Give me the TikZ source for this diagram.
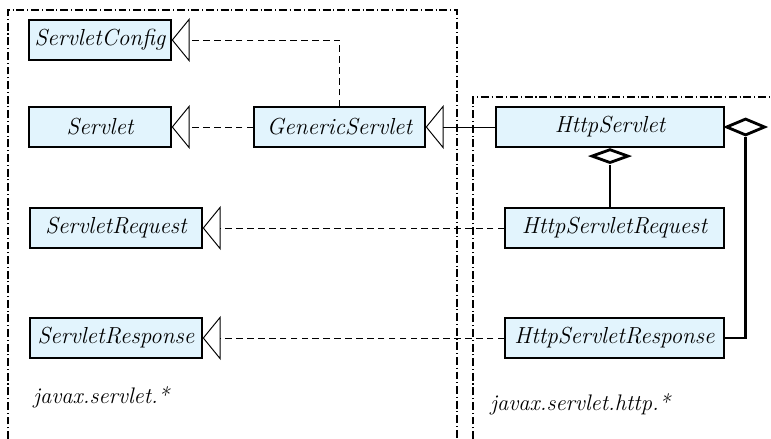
\documentclass[tikz,border=0pt]{standalone}
\usepackage{tikz}
\usetikzlibrary{arrows.meta,shapes.geometric}
\definecolor{boxfill}{HTML}{E2F4FD}

\begin{document}
\begin{tikzpicture}[
    x=0.02cm, y=-0.02cm,
    cls/.style={rectangle, draw=black, line width=0.8pt, fill=boxfill, minimum height=0.8cm, inner sep=0pt, font=\fontsize{13.2}{15}\selectfont\itshape},
    pkg/.style={dash pattern=on 4.5pt off 1.6pt on 0.6pt off 1.6pt, line width=0.7pt},
    pkglabel/.style={anchor=west, font=\fontsize{12.8}{15}\selectfont\itshape, inner sep=0pt},
    realize/.style={-{Triangle[open, length=0.36cm, width=0.88cm]}, line width=0.55pt, dash pattern=on 3.8pt off 2.4pt},
    inherit/.style={-{Triangle[open, length=0.36cm, width=0.88cm]}, line width=0.55pt},
    agg/.style={diamond, draw=black, line width=1.6pt, fill=white, inner sep=0pt},
    own/.style={line width=1.6pt}
]
\useasboundingbox (0,0) rectangle (771,439);

% package frames
\draw[pkg] (8,439) -- (8,10) -- (457,10) -- (457,439);
\draw[pkg] (473,439) -- (473,97) -- (771,97);

% javax.servlet
\node[cls, minimum width=2.84cm] (cfg) at (100,40) {ServletConfig};
\node[cls, minimum width=2.84cm] (srv) at (100,127) {Servlet};
\node[cls, minimum width=3.42cm] (gen) at (339.5,127) {GenericServlet};
\node[cls, minimum width=3.44cm] (req) at (116,228) {ServletRequest};
\node[cls, minimum width=3.44cm] (resp) at (116,338) {ServletResponse};
\node[pkglabel] (lbl1) at (33,397) {javax.servlet.*};

% javax.servlet.http
\node[cls, minimum width=4.56cm] (http) at (610,127) {HttpServlet};
\node[cls, minimum width=4.38cm] (hreq) at (614.5,228) {HttpServletRequest};
\node[cls, minimum width=4.38cm] (hresp) at (614.5,338) {HttpServletResponse};
\node[pkglabel] (lbl2) at (490,404) {javax.servlet.http.*};

% aggregation diamonds
\node[agg, minimum width=0.74cm, minimum height=0.28cm, anchor=north] (vdia) at (http.south) {};
\node[agg, minimum width=0.78cm, minimum height=0.34cm, anchor=west] (hdia) at (http.east) {};

\draw[realize] (gen.north) |- (cfg.east);
\draw[realize] (gen.west) -- (srv.east);
\draw[inherit] (http.west) -- (gen.east);
\draw[realize] (hreq.west) -- (req.east);
\draw[realize] (hresp.west) -- (resp.east);
\draw[own] (hreq.north -| vdia.south) -- (vdia.south);
\draw[own] (hresp.east) -| (hdia.south);
\end{tikzpicture}
\end{document}
